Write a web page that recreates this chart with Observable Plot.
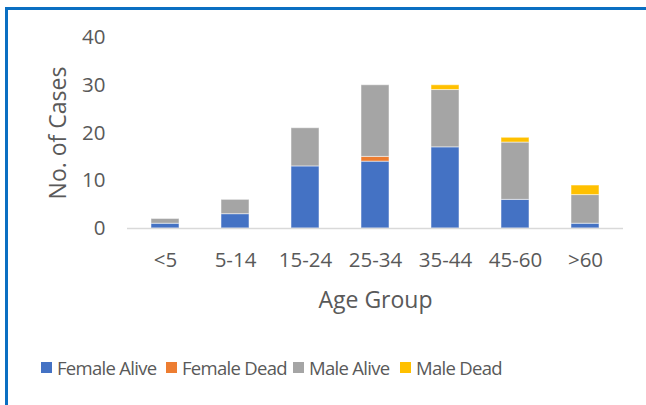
<!DOCTYPE html>
<html>
<head>
<meta charset="utf-8">
<script src="https://cdn.jsdelivr.net/npm/d3@7"></script>
<script src="https://cdn.jsdelivr.net/npm/@observablehq/plot@0.6"></script>
<style>
  html, body { margin: 0; padding: 0; background: #fff; width: 646px; height: 405px; overflow: hidden; }
  #frame { position: absolute; left: 5px; top: 7px; width: 660px; height: 420px;
           border-top: 3px solid #0a6fc2; border-left: 3px solid #0a6fc2; box-sizing: border-box; }
  #chart { position: absolute; left: 0; top: 0; }
  #chart text { font-size: 20.5px !important; font-family: "Open Sans", sans-serif; }
  #chart g[aria-label$="axis label"] text { font-size: 23px !important; }
  #legend { position: absolute; left: 0; top: 353px; width: 646px; height: 28px;
            font-family: "Open Sans", sans-serif; font-size: 18.5px; letter-spacing: -0.7px; color: #595959; white-space: nowrap; }
  .item { position: absolute; top: 0; display: flex; align-items: center; height: 28px; }
  .sw { width: 11px; height: 11px; margin-right: 5px; }
</style>
</head>
<body>
<div id="frame"></div>
<div id="chart"></div>
<div id="legend"></div>
<script>
const ageGroups = ["<5", "5-14", "15-24", "25-34", "35-44", "45-60", ">60"];
const seriesNames = ["Female Alive", "Female Dead", "Male Alive", "Male Dead"];
const seriesColors = ["#4472C4", "#ED7D31", "#A5A5A5", "#FFC000"];
const femaleAlive = [1, 3, 13, 14, 17, 6, 1];
const femaleDead  = [0, 0, 0, 1, 0, 0, 0];
const maleAlive   = [1, 3, 8, 15, 12, 12, 6];
const maleDead    = [0, 0, 0, 0, 1, 1, 2];
const yTicks = [0, 10, 20, 30, 40];

const seriesValues = [femaleAlive, femaleDead, maleAlive, maleDead];
const data = [];
seriesNames.forEach((s, i) => {
  ageGroups.forEach((g, j) => data.push({age: g, series: s, value: seriesValues[i][j]}));
});

const chart = Plot.plot({
  width: 646,
  height: 330,
  marginLeft: 127,
  marginRight: 23,
  marginTop: 37,
  marginBottom: 102,
  style: { fontFamily: "'Open Sans', sans-serif", fontSize: "20px", color: "#595959", background: "transparent" },
  x: { domain: ageGroups, paddingInner: 0.6, paddingOuter: 0.3 },
  y: { domain: [0, 40] },
  color: { domain: seriesNames, range: seriesColors },
  marks: [
    Plot.barY(data, {x: "age", y: "value", fill: "series", stroke: "white", strokeOpacity: 0.5, strokeWidth: 1}),
    Plot.ruleY([0], {stroke: "#d9d9d9", strokeWidth: 1.5}),
    Plot.axisX({tickSize: 0, tickPadding: 24, label: "Age Group", labelArrow: "none", labelAnchor: "center", labelOffset: 79}),
    Plot.axisY({ticks: yTicks, tickSize: 0, tickPadding: 22, label: "No. of Cases", labelArrow: "none", labelAnchor: "center", labelOffset: 78})
  ]
});
chart.querySelectorAll("text").forEach(t => t.setAttribute("fill", "#595959"));
document.getElementById("chart").appendChild(chart);

const legendLefts = [41, 166, 293, 400];
const legend = document.getElementById("legend");
seriesNames.forEach((s, i) => {
  const it = document.createElement("div");
  it.className = "item";
  it.style.left = legendLefts[i] + "px";
  it.innerHTML = `<div class="sw" style="background:${seriesColors[i]}"></div><span>${s}</span>`;
  legend.appendChild(it);
});
</script>
</body>
</html>
